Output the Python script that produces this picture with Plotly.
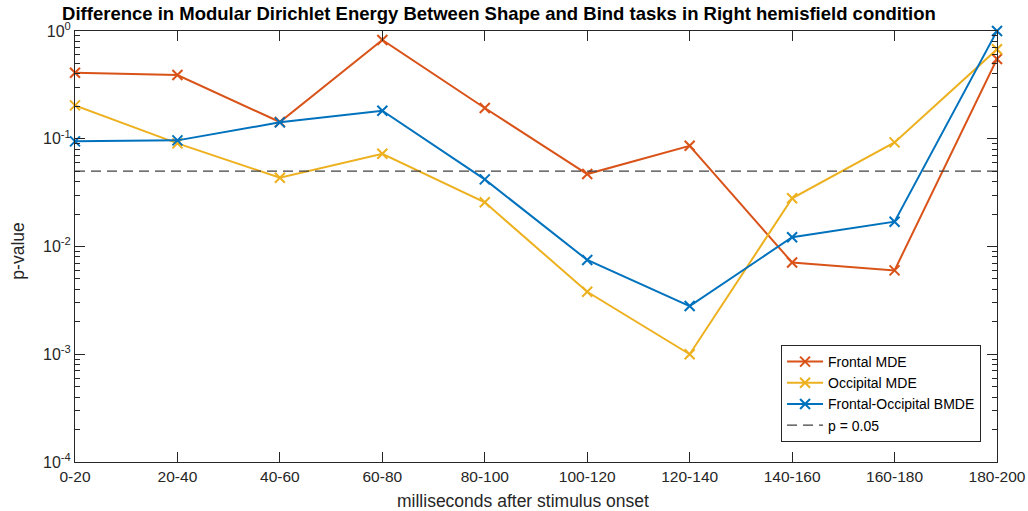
import plotly.graph_objects as go

# временные окна (мс после стимула)
windows = ['0-20', '20-40', '40-60', '60-80', '80-100',
           '100-120', '120-140', '140-160', '160-180', '180-200']

# p-значения
frontal_mde = [0.41, 0.39, 0.143, 0.825, 0.193, 0.047, 0.086, 0.0071, 0.0060, 0.55]
occipital_mde = [0.204, 0.0906, 0.0435, 0.0726, 0.0257, 0.0038, 0.00100, 0.028, 0.0925, 0.676]
fo_bmde = [0.0946, 0.0966, 0.142, 0.182, 0.042, 0.0075, 0.0028, 0.0122, 0.0170, 1.0]
p_thresh = 0.05

ytick_vals = [1e-4, 1e-3, 1e-2, 1e-1, 1e0]
ytick_text = ['10<sup>-4</sup>', '10<sup>-3</sup>', '10<sup>-2</sup>', '10<sup>-1</sup>', '10<sup>0</sup>']
minor_vals = [m * 10.0 ** k for k in range(-4, 0) for m in range(2, 10)]

font = 'Liberation Sans, Arial, Helvetica, sans-serif'
axis_col = '#262626'

fig = go.Figure()
series = [
    ('Frontal MDE', frontal_mde, '#D95319'),
    ('Occipital MDE', occipital_mde, '#EDB120'),
    ('Frontal-Occipital BMDE', fo_bmde, '#0072BD'),
]
for name, vals, col in series:
    fig.add_trace(go.Scatter(
        x=windows, y=vals, name=name, mode='lines+markers',
        line=dict(color=col, width=2),
        marker=dict(symbol='x-thin', size=10, line=dict(color=col, width=2)),
        cliponaxis=False,
    ))

fig.add_trace(go.Scatter(
    x=windows, y=[p_thresh] * len(windows), name='p = 0.05', mode='lines',
    line=dict(color='#404040', width=1.2, dash='10px,6px'),
))

fig.update_layout(
    width=1028, height=511,
    margin=dict(l=75, r=31, t=31, b=49),
    paper_bgcolor='white', plot_bgcolor='white',
    font=dict(family=font, size=15.5, color=axis_col),
    title=dict(
        text='<b>Difference in Modular Dirichlet Energy Between Shape and Bind tasks in Right hemisfield condition</b>',
        x=0.4854, xref='container', xanchor='center',
        y=1 - 13.5 / 511, yref='container', yanchor='middle',
        font=dict(family=font, size=18.5, color='black'),
    ),
    legend=dict(
        x=0.9827, y=0.0464, xanchor='right', yanchor='bottom',
        bgcolor='white', bordercolor=axis_col, borderwidth=1,
        font=dict(family=font, size=14, color='black'),
        tracegroupgap=0, itemwidth=36,
    ),
    showlegend=True,
    annotations=[
        dict(text='milliseconds after stimulus onset', xref='paper', yref='paper',
             x=0.4854, y=-0.09, xanchor='center', yanchor='middle', showarrow=False,
             font=dict(family=font, size=17.5, color=axis_col)),
        dict(text='p-value', xref='paper', yref='paper', textangle=-90,
             x=-0.062, y=0.49, xanchor='center', yanchor='middle', showarrow=False,
             font=dict(family=font, size=17.5, color=axis_col)),
    ],
)

fig.update_xaxes(
    type='category', range=[0, 9], automargin=False,
    showline=True, linecolor=axis_col, linewidth=1, mirror='ticks',
    ticks='inside', ticklen=10, tickcolor=axis_col,
    showgrid=False, zeroline=False,
    tickfont=dict(size=15.5),
)
fig.update_yaxes(
    type='log', range=[-4, 0], automargin=False,
    tickvals=ytick_vals, ticktext=ytick_text,
    showline=True, linecolor=axis_col, linewidth=1, mirror='ticks',
    ticks='inside', ticklen=10, tickcolor=axis_col,
    minor=dict(tickvals=minor_vals, ticks='inside', ticklen=5, tickcolor=axis_col, showgrid=False),
    showgrid=False, zeroline=False,
    tickfont=dict(size=16),
)

# убрать отступ body, чтобы рисунок лёг ровно в окно
fig.write_html('out.html', config={'displayModeBar': False},
               post_script="document.body.style.margin='0px';")
